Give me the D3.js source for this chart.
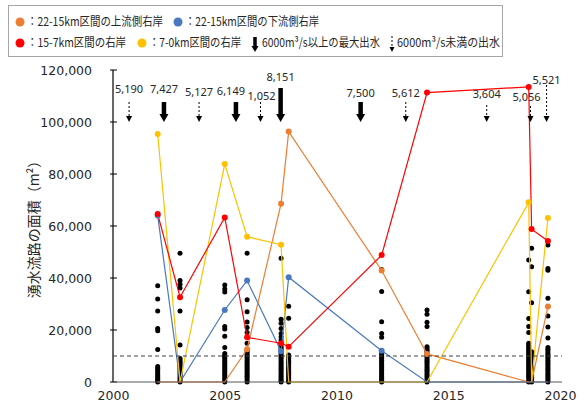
<!DOCTYPE html>
<html>
<head>
<meta charset="utf-8">
<script src="https://cdn.jsdelivr.net/npm/d3@7"></script>
<style>
  body { margin: 0; background: #fff; }
  svg { display: block; }
</style>
</head>
<body>
<script>
// Survey dates (decimal years) shared by all series and the black scatter columns
const surveyTimes = [2002.0, 2003.0, 2005.0, 2006.0, 2007.52, 2007.86, 2012.02, 2014.05, 2018.6, 2018.73, 2019.46];

// Spring-channel area (m²) per reach
const upstream2215   = [0, 0, 0, 12600, 68600, 96300, 42900, 10800, 0, 0, 29000];
const downstream2215 = [64000, 0, 27700, 39000, 11800, 40300, 12000, 0, 0, 0, 0];
const rightBank157   = [64600, 32600, 63300, 17200, 14900, 13600, 48800, 111300, 113500, 58800, 54200];
const rightBank70    = [95400, 0, 83800, 55900, 52800, 0, 0, 0, 69100, 0, 63100];

// Individual channel areas (m²) for each survey column
const channelAreas = [
  [37000, 31900, 27300, 20600, 19700, 12500, 6000, 5300, 4600, 3900, 3200, 2500, 1800, 1100, 500, 0],
  [49500, 39000, 37600, 36200, 27300, 14200, 9000, 8300, 7600, 6900, 6200, 5500, 4800, 4100, 3400, 2700, 2000, 1300, 600, 0],
  [37300, 35800, 34600, 21300, 20400, 17600, 13300, 11000, 10300, 9600, 8900, 8200, 7500, 6800, 6100, 5400, 4700, 4000, 3300, 2600, 1900, 1200, 500, 0],
  [49500, 31600, 27000, 23100, 21000, 19000, 14900, 12000, 11300, 10600, 9900, 9200, 8500, 7800, 7100, 6400, 5700, 5000, 4300, 3600, 2900, 2200, 1500, 800, 0],
  [47600, 24100, 22600, 20600, 18700, 17300, 16200, 14800, 13700, 13000, 12300, 11600, 10900, 10200, 9500, 8800, 8100, 7400, 6700, 6000, 5300, 4600, 3900, 3200, 2500, 1800, 1100, 400, 0],
  [29100, 24500, 10400, 9700, 9000, 8300, 7600, 6900, 6200, 5500, 4800, 4100, 3400, 2700, 2000, 1300, 600, 0],
  [43300, 34800, 23200, 18700, 17200, 11200, 10500, 9800, 9100, 8400, 7700, 7000, 6300, 5600, 4900, 4200, 3500, 2800, 2100, 1400, 700, 0],
  [27700, 26100, 23000, 21300, 13600, 12900, 12200, 11500, 10800, 10100, 9400, 8700, 8000, 7300, 6600, 5900, 5200, 4500, 3800, 3100, 2400, 1700, 1000, 300, 0],
  [46900, 34700, 24400, 21300, 19000, 14900, 14200, 13500, 12800, 12100, 11400, 10700, 10000, 9300, 8600, 7900, 7200, 6500, 5800, 5100, 4400, 3700, 3000, 2300, 1600, 900, 200, 0],
  [51400, 44300, 30500, 11600, 10900, 10200, 9500, 8800, 8100, 7400, 6700, 6000, 5300, 4600, 3900, 3200, 2500, 1800, 1100, 400, 0],
  [52700, 43700, 43000, 32200, 25400, 21200, 16900, 13300, 12600, 11900, 11200, 10500, 9800, 9100, 8400, 7700, 7000, 6300, 5600, 4900, 4200, 3500, 2800, 2100, 1400, 700, 0]
];

// Flood events: timing and peak discharge (m³/s)
const floodTimes = [2000.72, 2002.28, 2003.85, 2005.5, 2006.6, 2007.5, 2011.08, 2013.1, 2016.72, 2018.68, 2019.4];
const floodPeaks = [5190, 7427, 5127, 6149, 1052, 8151, 7500, 5612, 3604, 5056, 5521];
const floodThreshold = 6000;

const guideLevel = 10000;
const yTicks = [0, 20000, 40000, 60000, 80000, 100000, 120000];
const xTicks = [2000, 2005, 2010, 2015, 2020];

const seriesNames = ["：22-15km区間の上流側右岸", "：22-15km区間の下流側右岸", "：15-7km区間の右岸", "：7-0km区間の右岸"];
const floodLegend = ["6000m³/s以上の最大出水", "6000m³/s未満の出水"];
const yTitle = "湧水流路の面積（m²）";

// ---------------------------------------------------------------
const W = 587, H = 412;
const cjk = "'Noto Sans CJK JP', 'Noto Sans', sans-serif";
const tickFont = "'DejaVu Sans', sans-serif";
const svg = d3.select("body").append("svg").attr("width", W).attr("height", H);

const x = d3.scaleLinear().domain([2000, 2020]).range([113, 560]);
const y = d3.scaleLinear().domain([0, 120000]).range([382, 70]);

const colors = ["#ED7D31", "#4A78BE", "#FF0000", "#FFC000"];
const series = [upstream2215, downstream2215, rightBank157, rightBank70];

// legend
const lg = svg.append("g");
lg.append("rect").attr("x", 8.5).attr("y", 5.5).attr("width", 494).attr("height", 51)
  .attr("fill", "#fff").attr("stroke", "#a6a6a6");

function legendText(tx, ty, str, len) {
  lg.append("text").attr("x", tx).attr("y", ty).attr("dy", "0.35em")
    .attr("font-family", cjk).attr("font-size", 12).attr("fill", "#262626")
    .attr("textLength", len).attr("lengthAdjust", "spacingAndGlyphs")
    .text(str);
}
const legendItems = [
  { c: 0, cx: 20, cy: 22, len: 136 }, { c: 1, cx: 178, cy: 22, len: 134 },
  { c: 2, cx: 20, cy: 43, len: 99 }, { c: 3, cx: 142, cy: 43, len: 92 }
];
legendItems.forEach(d => {
  lg.append("circle").attr("cx", d.cx).attr("cy", d.cy).attr("r", 4.5).attr("fill", colors[d.c]);
  legendText(d.cx + 7, d.cy, seriesNames[d.c], d.len);
});

function solidArrow(g, cx, top, bottom, shaft, headW, headH) {
  g.append("rect").attr("x", cx - shaft / 2).attr("y", top).attr("width", shaft)
    .attr("height", bottom - headH - top + 1).attr("fill", "#000");
  g.append("path").attr("d", `M${cx - headW / 2},${bottom - headH}L${cx + headW / 2},${bottom - headH}L${cx},${bottom}Z`)
    .attr("fill", "#000");
}
function dashedArrow(g, cx, top, bottom, headW, headH) {
  g.append("line").attr("x1", cx).attr("x2", cx).attr("y1", top).attr("y2", bottom - headH)
    .attr("stroke", "#000").attr("stroke-width", 1).attr("stroke-dasharray", "2,2");
  g.append("path").attr("d", `M${cx - headW / 2},${bottom - headH}L${cx + headW / 2},${bottom - headH}L${cx},${bottom}Z`)
    .attr("fill", "#000");
}
solidArrow(lg, 255, 37, 52, 3.5, 7, 6);
legendText(262, 43, floodLegend[0], 118);
dashedArrow(lg, 392, 36, 52, 5, 5);
legendText(397, 43, floodLegend[1], 103);

// axes
const yAxis = svg.append("g").attr("transform", "translate(113,0)")
  .call(d3.axisLeft(y).tickValues(yTicks).tickSize(0).tickPadding(21).tickFormat(d3.format(",")));
yAxis.select(".domain").remove();
yAxis.selectAll("text").attr("font-family", tickFont).attr("font-size", 12.5).attr("fill", "#262626");
svg.append("line").attr("x1", 113).attr("x2", 113).attr("y1", y(120000)).attr("y2", y(0))
  .attr("stroke", "#000").attr("stroke-width", 1.2);
svg.selectAll(".ytick").data(yTicks).join("line").attr("class", "ytick")
  .attr("x1", 110).attr("x2", 117).attr("y1", d => y(d)).attr("y2", d => y(d))
  .attr("stroke", "#000").attr("stroke-width", 1);

const xAxis = svg.append("g").attr("transform", `translate(0,${y(0)})`)
  .call(d3.axisBottom(x).tickValues(xTicks).tickSize(0).tickPadding(9).tickFormat(d3.format("d")));
xAxis.select(".domain").remove();
xAxis.selectAll("text").attr("font-family", tickFont).attr("font-size", 12.5).attr("fill", "#262626");

svg.append("text").attr("transform", `translate(34,${(y(0) + y(120000)) / 2}) rotate(-90)`)
  .attr("text-anchor", "middle").attr("dy", "0.35em")
  .attr("font-family", cjk).attr("font-size", 14).attr("fill", "#262626").text(yTitle);

// black scatter of individual channels
const dots = [];
channelAreas.forEach((col, i) => col.forEach(v => dots.push({ t: surveyTimes[i], v })));
svg.append("g").selectAll("circle").data(dots).join("circle")
  .attr("cx", d => x(d.t)).attr("cy", d => y(d.v)).attr("r", 2.5).attr("fill", "#000");

// series lines and markers
const line = d3.line().x(d => x(d.t)).y(d => y(d.v));
const order = [1, 0, 3, 2];
order.forEach(si => {
  const pts = series[si].map((v, i) => ({ t: surveyTimes[i], v }));
  svg.append("path").datum(pts).attr("d", line).attr("fill", "none")
    .attr("stroke", colors[si]).attr("stroke-width", 1.2);
});
order.forEach(si => {
  const pts = series[si].map((v, i) => ({ t: surveyTimes[i], v })).filter(d => d.v > 0);
  svg.append("g").selectAll("circle").data(pts).join("circle")
    .attr("cx", d => x(d.t)).attr("cy", d => y(d.v)).attr("r", 3).attr("fill", colors[si]);
});

// horizontal x axis line and 10,000 m² guide
svg.append("line").attr("x1", 113).attr("x2", 562).attr("y1", y(0)).attr("y2", y(0))
  .attr("stroke", "#595959").attr("stroke-width", 1.2);
svg.append("line").attr("x1", 113).attr("x2", 562).attr("y1", y(guideLevel)).attr("y2", y(guideLevel))
  .attr("stroke", "#404040").attr("stroke-width", 1.2).attr("stroke-dasharray", "4,3");

// flood arrows with peak discharge labels
const arrowTop = [102, 102, 102, 102, 102, 88, 102, 102, 105, 106, 85];
const labelY = [89, 89, 92, 91, 96, 77, 93, 93, 94, 97, 80];
const labelDx = [0, 0, 0, -5, 1, 0, 0, 0, 0, -4, 0];
const fg = svg.append("g");
floodTimes.forEach((t, i) => {
  const cx = x(t);
  if (floodPeaks[i] >= floodThreshold) solidArrow(fg, cx, arrowTop[i], 122, 4.5, 9, 8);
  else dashedArrow(fg, cx, arrowTop[i], 122, 6, 6);
  fg.append("text").attr("x", cx + labelDx[i]).attr("y", labelY[i]).attr("dy", "0.35em")
    .attr("text-anchor", "middle").attr("font-family", "'Noto Sans', sans-serif")
    .attr("font-size", 11).attr("fill", "#262626").text(d3.format(",")(floodPeaks[i]));
});
</script>
</body>
</html>
